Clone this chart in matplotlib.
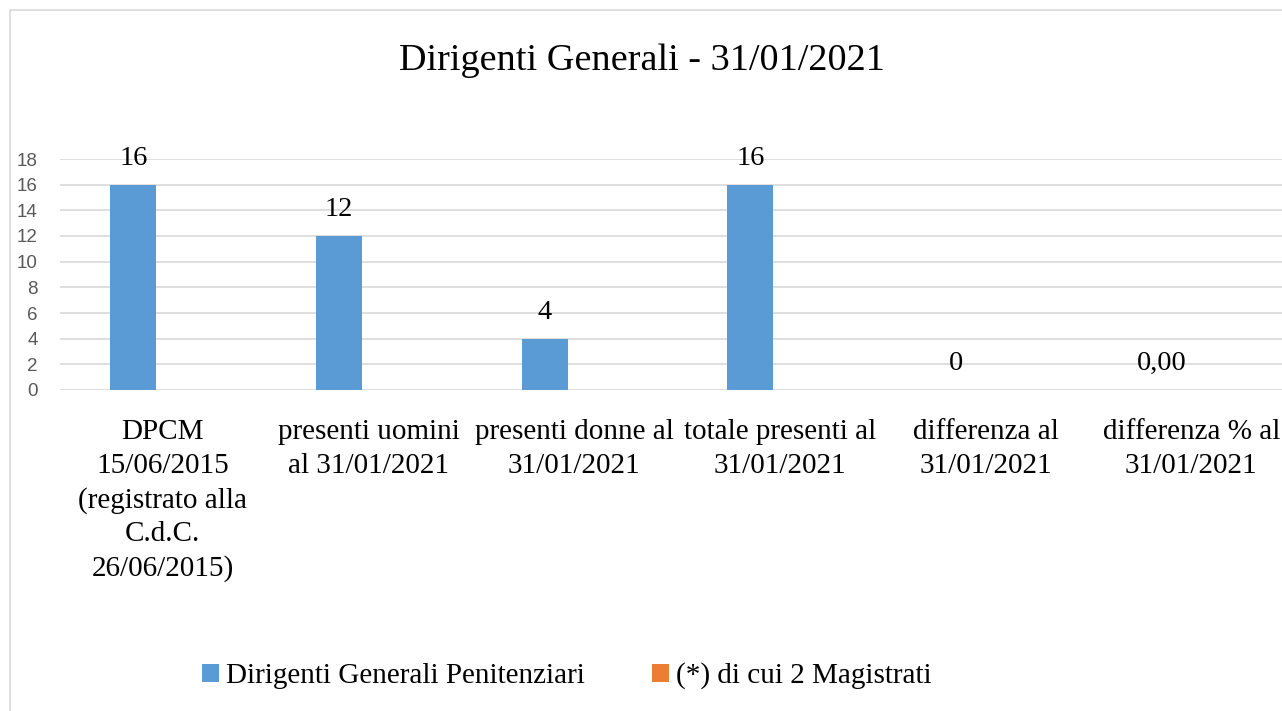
import numpy as np
import matplotlib
matplotlib.use("Agg")
import matplotlib.pyplot as plt
from matplotlib.patches import Rectangle

BLUE = "#5B9BD5"; ORANGE = "#ED7D31"; GRID = "#D9D9D9"; TICK = "#595959"
SERIF = ["Liberation Serif", "DejaVu Serif"]
SANS = ["Liberation Sans", "DejaVu Sans"]

categories = [
    "DPCM\n15/06/2015\n(registrato alla\nC.d.C.\n26/06/2015)",
    "presenti uomini\nal 31/01/2021",
    "presenti donne al\n31/01/2021",
    "totale presenti al\n31/01/2021",
    "differenza al\n31/01/2021",
    "differenza % al\n31/01/2021",
]
penitenziari = [16, 12, 4, 16, 0, 0]
value_labels = ["16", "12", "4", "16", "0", "0,00"]
magistrati = [np.nan] * 6          # series shown only in the legend
yticks = list(range(0, 20, 2))

W, H = 1282, 711
fig = plt.figure(figsize=(W / 100, H / 100), dpi=100)
fig.patch.set_facecolor("white")

# chart frame (right and bottom edges fall outside the crop)
fig.patches.append(Rectangle((10 / W, -0.2), 1.5, 1.2 - 10 / H, transform=fig.transFigure,
                             fill=False, edgecolor=GRID, lw=1.2))

cat_w = 205.7
ax = fig.add_axes([60 / W, (H - 390) / H, 6 * cat_w / W, 231 / H])
x = np.arange(len(categories))
bw = 46 / cat_w
off = -29.5 / cat_w
b1 = ax.bar(x + off, penitenziari, width=bw, color=BLUE, lw=0, zorder=3,
            label="Dirigenti Generali Penitenziari")
b2 = ax.bar(x + off + bw, magistrati, width=bw, color=ORANGE, lw=0, zorder=3,
            label="(*) di cui 2 Magistrati")

for xi, v, lab in zip(x + off, penitenziari, value_labels):
    ax.annotate(lab, (xi, v), xytext=(0, 14.5), textcoords="offset points",
                ha="center", va="baseline", fontsize=20.5, family=SERIF, color="black")

ax.set_xlim(-0.5, 5.5)
ax.set_ylim(0, 18)
ax.set_yticks(yticks)
ax.set_xticks(x)
ax.set_xticklabels(categories, family=SERIF, fontsize=21, color="black", linespacing=1.38)
ax.tick_params(axis="x", length=0, pad=21)
ax.tick_params(axis="y", length=0, pad=16, labelsize=13.5, labelcolor=TICK)
for t in ax.get_yticklabels():
    t.set_family(SANS)
ax.grid(axis="y", color=GRID, lw=1.2, zorder=0)
for s in ax.spines.values():
    s.set_visible(False)

fig.text(642 / W, 1 - 70 / H, "Dirigenti Generali - 31/01/2021", ha="center", va="baseline",
         fontsize=27.5, family=SERIF, color="black")

leg = fig.legend(handles=[b1, b2], loc="center", bbox_to_anchor=(567 / W, 1 - 676 / H),
                 ncol=2, frameon=False, prop={"family": SERIF, "size": 21},
                 handlelength=0.58, handleheight=0.58, handletextpad=0.25, columnspacing=2.3)

fig.savefig("out.png", dpi=100, facecolor="white")
